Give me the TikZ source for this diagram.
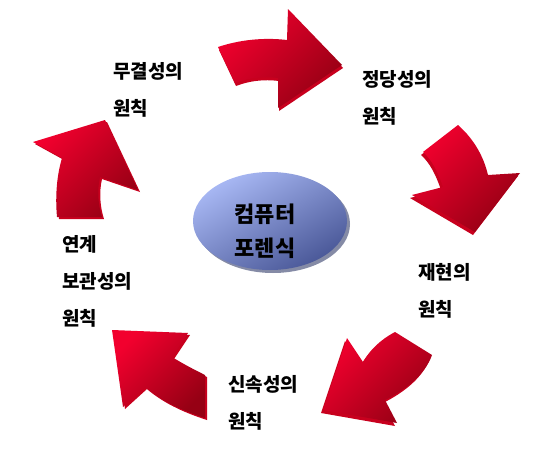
\documentclass[tikz,border=0pt]{standalone}
\usepackage{fontspec}
\setmainfont{Noto Sans CJK KR}
\usetikzlibrary{shadings,shapes.geometric}
\definecolor{redL}{HTML}{F2002E}
\definecolor{redD}{HTML}{960014}
\definecolor{redS}{HTML}{C8001E}
\definecolor{bluL}{HTML}{A8B8F4}
\definecolor{bluD}{HTML}{4A5898}
\tikzset{
  arrowbody/.style={top color=redL, bottom color=redD, shading angle=#1, draw=none},
  arrowside/.style={fill=redS, draw=none},
  lbl/.style={font=\fontsize{19}{37}\selectfont\bfseries, align=left, anchor=west, inner sep=0pt, text=black},
}
\begin{document}
\begin{tikzpicture}[x=1pt,y=-1pt]
\useasboundingbox[fill=white] (0,0) rectangle (550,466);
% arrow 1 (top)
\path[arrowside,shift={(1,3)}] (218,47) .. controls (245,38) and (270,38) .. (287,40) -- (288,9) -- (342,65) -- (278,108) -- (278,78) .. controls (262,76) and (248,78) .. (235,83) -- cycle;
\path[arrowbody=45] (218,47) .. controls (245,38) and (270,38) .. (287,40) -- (288,9) -- (342,65) -- (278,108) -- (278,78) .. controls (262,76) and (248,78) .. (235,83) -- cycle;
% arrow 2 (right)
\path[arrowside,shift={(-2,3)}] (423,152) -- (458,125) .. controls (475,140) and (484,158) .. (488,175) -- (520,173) -- (475,232) -- (412,195) -- (443,187) .. controls (438,172) and (432,160) .. (423,152) -- cycle;
\path[arrowbody=45] (423,152) -- (458,125) .. controls (475,140) and (484,158) .. (488,175) -- (520,173) -- (475,232) -- (412,195) -- (443,187) .. controls (438,172) and (432,160) .. (423,152) -- cycle;
% arrow 3 (bottom right)
\path[arrowside,shift={(-2,3)}] (395,332) -- (432,355) .. controls (425,375) and (405,390) .. (385,400) -- (397,423) -- (323,410) -- (347,338) -- (363,362) .. controls (370,350) and (380,340) .. (395,332) -- cycle;
\path[arrowbody=45] (395,332) -- (432,355) .. controls (425,375) and (405,390) .. (385,400) -- (397,423) -- (323,410) -- (347,338) -- (363,362) .. controls (370,350) and (380,340) .. (395,332) -- cycle;
% arrow 4 (bottom left)
\path[arrowside,shift={(2,2)}] (112,330) -- (188,333) -- (172,357) .. controls (185,365) and (195,370) .. (205,375) -- (205,418) .. controls (180,410) and (160,400) .. (145,387) -- (123,407) -- cycle;
\path[arrowbody=45] (112,330) -- (188,333) -- (172,357) .. controls (185,365) and (195,370) .. (205,375) -- (205,418) .. controls (180,410) and (160,400) .. (145,387) -- (123,407) -- cycle;
% arrow 5 (left)
\path[arrowside,shift={(2,2)}] (105,120) -- (138,190) -- (100,177) .. controls (97,190) and (98,205) .. (102,217) -- (57,217) .. controls (55,195) and (57,175) .. (62,158) -- (33,142) -- cycle;
\path[arrowbody=45] (105,120) -- (138,190) -- (100,177) .. controls (97,190) and (98,205) .. (102,217) -- (57,217) .. controls (55,195) and (57,175) .. (62,158) -- (33,142) -- cycle;
% center ellipse
\fill[bluD!70!black!60] (273,224) ellipse [x radius=77, y radius=49];
\node[ellipse, minimum width=154pt, minimum height=98pt, draw=none, top color=bluL, bottom color=bluD, shading angle=30, inner sep=0pt] (c) at (270,221) {};
\node[font=\fontsize{22}{34}\selectfont\bfseries, align=center, text=black] (ct) at (265,231) {컴퓨터\\포렌식};
% labels
\node[lbl] (l1) at (113,90) {무결성의\\원칙};
\node[lbl] (l2) at (362,98) {정당성의\\원칙};
\node[lbl] (l3) at (418,291) {재현의\\원칙};
\node[lbl] (l4) at (228,403) {신속성의\\원칙};
\node[lbl] (l5) at (62,281) {연계\\보관성의\\원칙};
\end{tikzpicture}
\end{document}
